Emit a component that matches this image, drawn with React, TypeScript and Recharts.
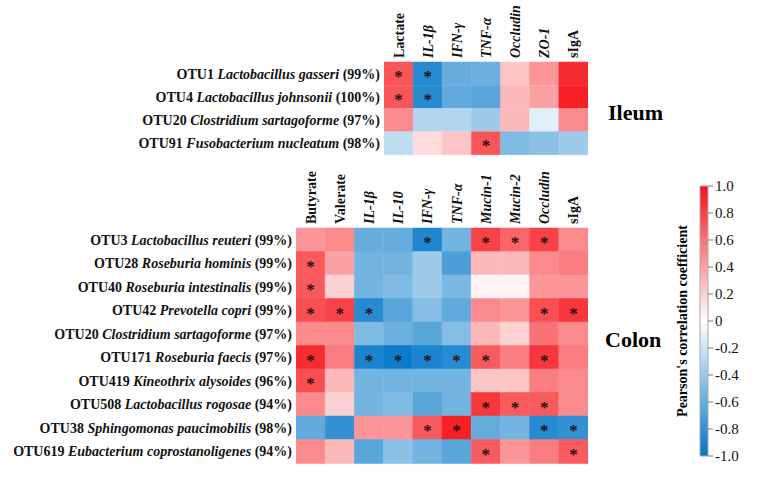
import { BarChart, Bar, XAxis, YAxis, Cell, LabelList } from 'recharts';

const FONT = 'Liberation Serif, Times New Roman, serif';

// ileum block
const ileumRows: [string, string, string][] = [
  ['OTU1', 'Lactobacillus gasseri', '(99%)'],
  ['OTU4', 'Lactobacillus johnsonii', '(100%)'],
  ['OTU20', 'Clostridium sartagoforme', '(97%)'],
  ['OTU91', 'Fusobacterium nucleatum', '(98%)'],
];
const ileumCols = ['Lactate', 'IL-1β', 'IFN-γ', 'TNF-α', 'Occludin', 'ZO-1', 'sIgA'];
const ileumValues = [
  [0.72, -0.85, -0.6, -0.58, 0.25, 0.45, 0.9],
  [0.72, -0.85, -0.62, -0.65, 0.3, 0.4, 0.95],
  [0.5, -0.3, -0.3, -0.38, 0.3, -0.12, 0.5],
  [-0.25, 0.15, 0.25, 0.72, -0.5, -0.45, -0.38],
];
const ileumSig = [
  [1, 1, 0, 0, 0, 0, 0],
  [1, 1, 0, 0, 0, 0, 0],
  [0, 0, 0, 0, 0, 0, 0],
  [0, 0, 0, 1, 0, 0, 0],
];

// colon block
const colonRows: [string, string, string][] = [
  ['OTU3', 'Lactobacillus reuteri', '(99%)'],
  ['OTU28', 'Roseburia hominis', '(99%)'],
  ['OTU40', 'Roseburia intestinalis', '(99%)'],
  ['OTU42', 'Prevotella copri', '(99%)'],
  ['OTU20', 'Clostridium sartagoforme', '(97%)'],
  ['OTU171', 'Roseburia faecis', '(97%)'],
  ['OTU419', 'Kineothrix alysoides', '(96%)'],
  ['OTU508', 'Lactobacillus rogosae', '(94%)'],
  ['OTU38', 'Sphingomonas paucimobilis', '(98%)'],
  ['OTU619', 'Eubacterium coprostanoligenes', '(94%)'],
];
const colonCols = ['Butyrate', 'Valerate', 'IL-1β', 'IL-10', 'IFN-γ', 'TNF-α', 'Mucin-1', 'Mucin-2', 'Occludin', 'sIgA'];
const colonValues = [
  [0.45, 0.5, -0.6, -0.6, -0.88, -0.55, 0.8, 0.65, 0.8, 0.5],
  [0.7, 0.4, -0.55, -0.55, -0.38, -0.7, 0.3, 0.3, 0.5, 0.55],
  [0.7, 0.2, -0.55, -0.5, -0.38, -0.52, 0.05, 0.05, 0.45, 0.45],
  [0.75, 0.8, -0.85, -0.65, -0.48, -0.62, 0.5, 0.45, 0.75, 0.85],
  [0.5, 0.5, -0.5, -0.58, -0.65, -0.48, 0.3, 0.2, 0.6, 0.5],
  [0.9, 0.55, -0.9, -0.95, -0.9, -0.85, 0.7, 0.55, 0.85, 0.55],
  [0.75, 0.3, -0.55, -0.55, -0.55, -0.55, 0.25, 0.25, 0.55, 0.5],
  [0.5, 0.2, -0.55, -0.5, -0.65, -0.55, 0.85, 0.7, 0.7, 0.5],
  [-0.62, -0.8, 0.45, 0.45, 0.7, 0.95, -0.6, -0.55, -0.85, -0.8],
  [0.5, 0.3, -0.65, -0.45, -0.55, -0.65, 0.7, 0.45, 0.55, 0.7],
];
const colonSig = [
  [0, 0, 0, 0, 1, 0, 1, 1, 1, 0],
  [1, 0, 0, 0, 0, 0, 0, 0, 0, 0],
  [1, 0, 0, 0, 0, 0, 0, 0, 0, 0],
  [1, 1, 1, 0, 0, 0, 0, 0, 1, 1],
  [0, 0, 0, 0, 0, 0, 0, 0, 0, 0],
  [1, 0, 1, 1, 1, 1, 1, 0, 1, 0],
  [1, 0, 0, 0, 0, 0, 0, 0, 0, 0],
  [0, 0, 0, 0, 0, 0, 1, 1, 1, 0],
  [0, 0, 0, 0, 1, 1, 0, 0, 1, 1],
  [0, 0, 0, 0, 0, 0, 1, 0, 0, 1],
];

const plainCols = ['Lactate', 'Butyrate', 'Valerate', 'sIgA'];
const cbTicks = [-1, -0.8, -0.6, -0.4, -0.2, 0, 0.2, 0.4, 0.6, 0.8, 1];

const RED = [245, 20, 25];
const BLUE = [0, 118, 200];

function color(v: number) {
  const end = v >= 0 ? RED : BLUE;
  const t = Math.min(1, Math.abs(v));
  const c = end.map((e) => Math.round(255 + (e - 255) * t));
  return `rgb(${c[0]},${c[1]},${c[2]})`;
}

const RowTick = (props: any) => {
  const { x, y, payload, rows } = props;
  const [otu, sp, pct] = rows[payload.value];
  return (
    <text x={x} y={y} dy={5} textAnchor="end" fontFamily={FONT} fontWeight="bold" fontSize={14} fill="#111">
      <tspan>{otu} </tspan>
      <tspan fontStyle="italic">{sp}</tspan>
      <tspan> {pct}</tspan>
    </text>
  );
};

const ColTick = (props: any) => {
  const { x, y, payload, cols } = props;
  const label = cols[Math.floor(payload.value)];
  return (
    <text
      x={x + 5}
      y={y}
      transform={`rotate(-90 ${x + 5} ${y})`}
      textAnchor="start"
      fontFamily={FONT}
      fontWeight="bold"
      fontStyle={plainCols.includes(label) ? 'normal' : 'italic'}
      fontSize={14}
      fill="#111"
    >
      {label}
    </text>
  );
};

type HeatProps = {
  rows: [string, string, string][];
  cols: string[];
  values: number[][];
  sig: number[][];
  left: number;
  top: number;
  width: number;
  height: number;
  axisW: number;
  axisH: number;
  bottom: number;
};

const Heatmap = ({ rows, cols, values, sig, left, top, width, height, axisW, axisH, bottom }: HeatProps) => {
  const data = rows.map((_, i) => {
    const o: Record<string, number> = { idx: i };
    cols.forEach((_c, j) => (o['c' + j] = 1));
    return o;
  });
  return (
    <div style={{ position: 'absolute', left, top }}>
      <BarChart
        layout="vertical"
        width={width}
        height={height}
        data={data}
        margin={{ top: 0, left: 0, right: 12, bottom }}
        barCategoryGap={0}
      >
        <XAxis
          type="number"
          orientation="top"
          domain={[0, cols.length]}
          ticks={cols.map((_c, j) => j + 0.5)}
          height={axisH}
          axisLine={false}
          tickLine={false}
          tickSize={0}
          tickMargin={4}
          interval={0}
          allowDataOverflow
          tick={<ColTick cols={cols} />}
        />
        <YAxis
          type="category"
          dataKey="idx"
          width={axisW}
          axisLine={false}
          tickLine={false}
          tickSize={0}
          tickMargin={4}
          interval={0}
          tick={<RowTick rows={rows} />}
        />
        {cols.map((c, j) => (
          <Bar key={c} dataKey={'c' + j} stackId="h" isAnimationActive={false}>
            {rows.map((_r, i) => (
              <Cell key={i} fill={color(values[i][j])} stroke={color(values[i][j])} strokeWidth={0.5} />
            ))}
            <LabelList
              dataKey={'c' + j}
              content={(p: any) =>
                sig[p.index] && sig[p.index][j] ? (
                  <text
                    x={p.x + p.width / 2}
                    y={p.y + p.height / 2 + 8}
                    textAnchor="middle"
                    fontFamily={FONT}
                    fontWeight="bold"
                    fontSize={17}
                    fill="#2a1010"
                  >
                    *
                  </text>
                ) : null
              }
            />
          </Bar>
        ))}
      </BarChart>
    </div>
  );
};

const cbData = [{ name: 'cb', range: [-1, 1] }];

export default function App() {
  return (
    <div style={{ position: 'absolute', left: 0, top: 0, width: 757, height: 483, background: '#fff', fontFamily: FONT }}>
      <Heatmap
        rows={ileumRows}
        cols={ileumCols}
        values={ileumValues}
        sig={ileumSig}
        left={0}
        top={0}
        width={600}
        height={160}
        axisW={384}
        axisH={62}
        bottom={5}
      />
      <Heatmap
        rows={colonRows}
        cols={colonCols}
        values={colonValues}
        sig={colonSig}
        left={0}
        top={160}
        width={600}
        height={310}
        axisW={296}
        axisH={68}
        bottom={7}
      />
      <div style={{ position: 'absolute', left: 608, top: 100, fontSize: 22, fontWeight: 'bold' }}>Ileum</div>
      <div style={{ position: 'absolute', left: 605, top: 327, fontSize: 22, fontWeight: 'bold' }}>Colon</div>
      <div
        style={{
          position: 'absolute',
          left: 683,
          top: 321,
          fontSize: 14,
          fontWeight: 'bold',
          whiteSpace: 'nowrap',
          transform: 'translate(-50%, -50%) rotate(-90deg)',
        }}
      >
        Pearson's correlation coefficient
      </div>
      <div style={{ position: 'absolute', left: 690, top: 170 }}>
        <BarChart width={67} height={300} data={cbData} margin={{ top: 16, right: 0, left: 10, bottom: 14 }} barCategoryGap={0}>
          <defs>
            <linearGradient id="cbg" x1="0" y1="0" x2="0" y2="1">
              <stop offset="0%" stopColor={color(1)} />
              <stop offset="50%" stopColor="#ffffff" />
              <stop offset="100%" stopColor={color(-1)} />
            </linearGradient>
          </defs>
          <XAxis dataKey="name" hide />
          <YAxis
            orientation="right"
            domain={[-1, 1]}
            ticks={cbTicks}
            width={49}
            axisLine={false}
            tickSize={5}
            tickLine={{ stroke: '#777' }}
            tick={{ fill: '#111', fontSize: 15, fontFamily: FONT }}
            tickFormatter={(v: number) => (v === 0 ? '0' : v.toFixed(1))}
            interval={0}
          />
          <Bar dataKey="range" fill="url(#cbg)" stroke="#aaa" strokeWidth={1} isAnimationActive={false} />
        </BarChart>
      </div>
    </div>
  );
}
